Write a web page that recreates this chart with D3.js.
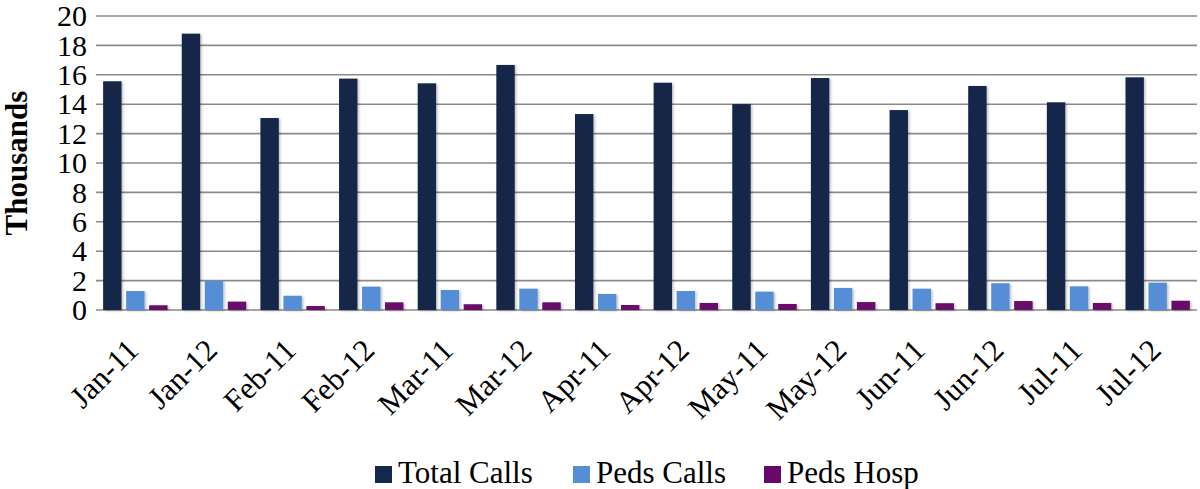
<!DOCTYPE html>
<html>
<head>
<meta charset="utf-8">
<script src="https://cdn.jsdelivr.net/npm/d3@7"></script>
<style>
  body { margin: 0; background: #fff; }
</style>
</head>
<body>
<script>
// data, in thousands
const months = ['Jan-11', 'Jan-12', 'Feb-11', 'Feb-12', 'Mar-11', 'Mar-12', 'Apr-11',
  'Apr-12', 'May-11', 'May-12', 'Jun-11', 'Jun-12', 'Jul-11', 'Jul-12'];
const seriesNames = ['Total Calls', 'Peds Calls', 'Peds Hosp'];
const totalCalls = [15.56, 18.8, 13.06, 15.74, 15.42, 16.67, 13.33, 15.46, 14.01, 15.78, 13.6, 15.24, 14.13, 15.83];
const pedsCalls = [1.29, 1.97, 0.97, 1.59, 1.36, 1.45, 1.09, 1.29, 1.25, 1.5, 1.45, 1.82, 1.61, 1.86];
const pedsHosp = [0.32, 0.57, 0.27, 0.52, 0.39, 0.52, 0.34, 0.48, 0.41, 0.54, 0.46, 0.61, 0.48, 0.63];
const yTicks = [0, 2, 4, 6, 8, 10, 12, 14, 16, 18, 20];

const colors = ['#13284a', '#568ed6', '#680868'];
const width = 1200;
const height = 489;
const margin = {top: 16, right: 3, bottom: 179, left: 96};
const font = '"Liberation Serif", "Times New Roman", serif';

const rows = months.map((m, i) => ({
  month: m,
  values: [totalCalls[i], pedsCalls[i], pedsHosp[i]]
}));

const svg = d3.select('body')
  .append('svg')
    .attr('width', width)
    .attr('height', height)
    .style('font-family', font);

const defs = svg.append('defs');
const shadow = defs.append('filter')
    .attr('id', 'shadow')
    .attr('x', '-20%').attr('y', '-5%')
    .attr('width', '160%').attr('height', '120%');
shadow.append('feDropShadow')
    .attr('dx', 1.5).attr('dy', 1)
    .attr('stdDeviation', 1.3)
    .attr('flood-color', '#000')
    .attr('flood-opacity', 0.25);

const x0 = d3.scaleBand()
  .domain(months)
  .range([margin.left, width - margin.right]);

const x1 = d3.scaleBand()
  .domain(d3.range(seriesNames.length))
  .range([0, x0.bandwidth()])
  .paddingInner(0.2)
  .paddingOuter(0.31);

const y = d3.scaleLinear()
  .domain([0, 20])
  .range([height - margin.bottom, margin.top]);

// gridlines
svg.append('g')
  .selectAll('line')
  .data(yTicks)
  .enter().append('line')
    .attr('x1', margin.left)
    .attr('x2', width - margin.right)
    .attr('y1', d => y(d))
    .attr('y2', d => y(d))
    .attr('stroke', '#8a8a8a')
    .attr('stroke-width', 1.6);

// y tick labels
svg.append('g')
  .selectAll('text')
  .data(yTicks)
  .enter().append('text')
    .attr('x', 87)
    .attr('y', d => y(d))
    .attr('dy', '0.34em')
    .attr('text-anchor', 'end')
    .style('font-size', '30px')
    .text(d => d);

// y title
svg.append('text')
    .attr('transform', `translate(27, ${(y(0) + y(20)) / 2}) rotate(-90)`)
    .attr('text-anchor', 'middle')
    .style('font-size', '31px')
    .style('font-weight', 'bold')
    .text('Thousands');

// bars
const groups = svg.append('g')
  .selectAll('g')
  .data(rows)
  .enter().append('g')
    .attr('transform', d => `translate(${x0(d.month)}, 0)`);

groups.selectAll('rect')
  .data(d => d.values)
  .enter().append('rect')
    .attr('x', (d, i) => x1(i))
    .attr('y', d => y(d))
    .attr('width', x1.bandwidth())
    .attr('height', d => y(0) - y(d))
    .attr('fill', (d, i) => colors[i])
    .attr('filter', 'url(#shadow)');

// x labels
svg.append('g')
  .selectAll('text')
  .data(months)
  .enter().append('text')
    .attr('transform', d => `translate(${x0(d) + x0.bandwidth() / 2 + 5}, 352) rotate(-45)`)
    .attr('text-anchor', 'end')
    .style('font-size', '31px')
    .text(d => d);

// legend
const legendX = [375, 573, 764];
const legend = svg.append('g')
  .selectAll('g')
  .data(seriesNames)
  .enter().append('g')
    .attr('transform', (d, i) => `translate(${legendX[i]}, 466)`);

legend.append('rect')
    .attr('width', 17)
    .attr('height', 17)
    .attr('fill', (d, i) => colors[i]);

legend.append('text')
    .attr('x', 23)
    .attr('y', 17)
    .style('font-size', '31px')
    .text(d => d);
</script>
</body>
</html>
